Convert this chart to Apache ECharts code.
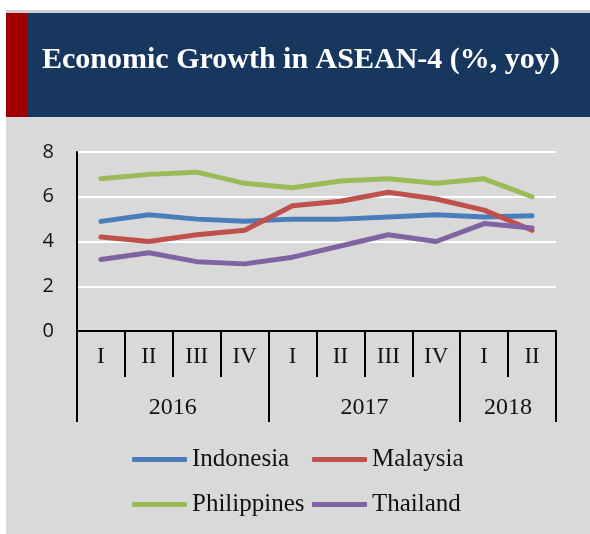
<!DOCTYPE html>
<html>
<head>
<meta charset="utf-8">
<script src="https://cdn.jsdelivr.net/npm/echarts@6/dist/echarts.min.js"></script>
<style>
  html, body { margin: 0; padding: 0; background: #ffffff; }
  #wrap { position: relative; width: 590px; height: 534px; overflow: hidden; }
  #topline { position: absolute; left: 6px; top: 10px; width: 584px; height: 3px; background: #d0d0d0; }
  #header { position: absolute; left: 6px; top: 13px; width: 584px; height: 104px; background: #17375e; }
  #redbar { position: absolute; left: 6px; top: 13px; width: 21px; height: 104px; background: #a00000; }
  #panel { position: absolute; left: 6px; top: 117px; width: 584px; height: 417px; background: #d9d9d9; }
  #chart { position: absolute; left: 0; top: 0; width: 590px; height: 534px; }
</style>
</head>
<body>
<div id="wrap">
  <div id="topline"></div>
  <div id="header"></div>
  <div id="redbar"></div>
  <div id="panel"></div>
  <div id="chart"></div>
</div>
<script>
const quarters = ['I', 'II', 'III', 'IV', 'I', 'II', 'III', 'IV', 'I', 'II'];
const yearLabels = ['', '', '2016', '', '', '', '2017', '', '', '2018', ''];
const yearBoundaryIdx = [0, 4, 8, 10];
const yTicks = { min: 0, max: 8, interval: 2 };

const indonesia   = [4.9, 5.2, 5.0, 4.9, 5.0, 5.0, 5.1, 5.2, 5.1, 5.15];
const malaysia    = [4.2, 4.0, 4.3, 4.5, 5.6, 5.8, 6.2, 5.9, 5.4, 4.5];
const philippines = [6.8, 7.0, 7.1, 6.6, 6.4, 6.7, 6.8, 6.6, 6.8, 6.0];
const thailand    = [3.2, 3.5, 3.1, 3.0, 3.3, 3.8, 4.3, 4.0, 4.8, 4.6];

const names  = ['Indonesia', 'Malaysia', 'Philippines', 'Thailand'];
const values = [indonesia, malaysia, philippines, thailand];
const colors = ['#4a7ebb', '#c0504d', '#9bbb59', '#8064a2'];

const chart = echarts.init(document.getElementById('chart'), null, { renderer: 'canvas' });

function legendCfg(left, data) {
  return {
    orient: 'vertical',
    left: left,
    top: 447,
    itemWidth: 55,
    itemHeight: 5,
    itemGap: 20,
    icon: 'roundRect',
    padding: 0,
    data: data,
    textStyle: { fontFamily: 'Liberation Serif', fontSize: 25, color: '#111', lineHeight: 24 }
  };
}

const option = {
  animation: false,
  backgroundColor: 'transparent',
  title: {
    text: 'Economic Growth in ASEAN-4 (%, yoy)',
    left: 42,
    top: 45,
    padding: 0,
    textStyle: { fontFamily: 'Liberation Serif', fontWeight: 'bold', fontSize: 30, color: '#ffffff' }
  },
  legend: [
    legendCfg(132, ['Indonesia', 'Philippines']),
    legendCfg(312, ['Malaysia', 'Thailand'])
  ],
  grid: { left: 77, right: 34, top: 152, bottom: 203, containLabel: false },
  xAxis: [
    {
      type: 'category',
      data: quarters,
      boundaryGap: true,
      axisLine: { show: true, lineStyle: { color: '#000', width: 2 } },
      axisTick: { show: true, length: 46, lineStyle: { color: '#000', width: 2 } },
      axisLabel: { interval: 0, margin: 14, fontFamily: 'Liberation Serif', fontSize: 23, color: '#111' },
      splitLine: { show: false }
    },
    {
      type: 'category',
      data: yearLabels,
      boundaryGap: false,
      position: 'bottom',
      axisLine: { show: false },
      axisTick: {
        show: true, length: 91,
        interval: function (idx) { return yearBoundaryIdx.indexOf(idx) >= 0; },
        lineStyle: { color: '#000', width: 2 }
      },
      axisLabel: { interval: 0, margin: 65, fontFamily: 'Liberation Serif', fontSize: 24, color: '#111' },
      splitLine: { show: false }
    }
  ],
  yAxis: {
    type: 'value',
    min: yTicks.min,
    max: yTicks.max,
    interval: yTicks.interval,
    axisLine: { show: true, lineStyle: { color: '#000', width: 2 } },
    axisTick: { show: false },
    axisLabel: { margin: 23, fontFamily: 'Open Sans', fontSize: 20, color: '#111' },
    splitLine: { show: true, lineStyle: { color: '#ffffff', width: 2 } }
  },
  series: names.map((n, i) => ({
    name: n,
    type: 'line',
    xAxisIndex: 0,
    data: values[i],
    symbol: 'none',
    color: colors[i],
    lineStyle: { color: colors[i], width: 5, cap: 'round', join: 'round' },
    z: 3
  }))
};

chart.setOption(option);
</script>
</body>
</html>
